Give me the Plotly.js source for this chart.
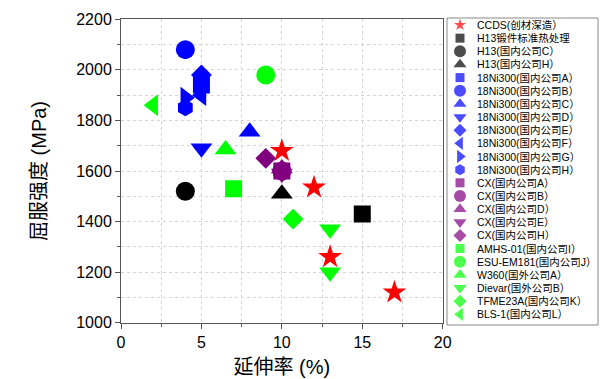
<!DOCTYPE html>
<html>
<head>
<meta charset="utf-8">
<script src="https://cdn.plot.ly/plotly-3.0.1.min.js"></script>
<style>html,body{margin:0;padding:0;background:#fff;}#chart{width:606px;height:379px;}</style>
</head>
<body>
<div id="chart"></div>
<script>
// ---- data ----
const seriesNames = [
  "CCDS(创材深造）", "H13锻件标准热处理", "H13(国内公司C）", "H13(国内公司H）",
  "18Ni300(国内公司A）", "18Ni300(国内公司B）", "18Ni300(国内公司C）", "18Ni300(国内公司D）",
  "18Ni300(国内公司E）", "18Ni300(国内公司F）", "18Ni300(国内公司G）", "18Ni300(国内公司H）",
  "CX(国内公司A）", "CX(国内公司B）", "CX(国内公司D）", "CX(国内公司E）", "CX(国内公司H）",
  "AMHS-01(国内公司I）", "ESU-EM181(国内公司J）", "W360(国外公司A）", "Dievar(国外公司B）",
  "TFME23A(国内公司K）", "BLS-1(国内公司L）"
];
// elongation (%) per series
const elongation = [
  [10, 12, 13, 17], [15], [4], [10],
  [5], [4], [8], [5],
  [5], [5], [4], [4],
  [10], [10], [10], [10], [9],
  [7], [9], [6.5], [13, 13],
  [10.7], [2]
];
// yield strength (MPa) per series
const yieldStrength = [
  [1680, 1535, 1260, 1120], [1430], [1520], [1510],
  [1940], [2080], [1755], [1690],
  [1980], [1900], [1890], [1850],
  [1600], [1600], [1610], [1590], [1650],
  [1530], [1980], [1685], [1370, 1200],
  [1410], [1860]
];

// ---- styles ----
const symbols = [
  "star", "square", "circle", "triangle-up",
  "square", "circle", "triangle-up", "triangle-down",
  "diamond", "triangle-left", "triangle-right", "hexagon",
  "square", "circle", "triangle-up", "triangle-down", "diamond",
  "square", "circle", "triangle-up", "triangle-down",
  "diamond", "triangle-left"
];
const colors = [
  "#ff0000", "#000000", "#000000", "#000000",
  "#0000ff", "#0000ff", "#0000ff", "#0000ff", "#0000ff", "#0000ff", "#0000ff", "#0000ff",
  "#800080", "#800080", "#800080", "#800080", "#800080",
  "#00ff00", "#00ff00", "#00ff00", "#00ff00", "#00ff00", "#00ff00"
];
const mainSize = {"star": 18, "square": 17, "circle": 19, "triangle-up": 19, "triangle-down": 19,
  "triangle-left": 19, "triangle-right": 19, "diamond": 16, "hexagon": 17};
const legendSize = {"star": 9, "square": 9, "circle": 12, "triangle-up": 11.5, "triangle-down": 11.5,
  "triangle-left": 11.5, "triangle-right": 11.5, "diamond": 10, "hexagon": 11};

const W = 606, H = 379;
const plotL = 121, plotR = 442.7, plotT = 19.3, plotB = 322.7;
const legL = 447, legR = 598, legT = 18, legB = 325;
const rowTop = 25, rowStep = 13.15, markerOff = 13, textOff = 15;

const traces = seriesNames.map((name, i) => ({
  type: "scatter", mode: "markers", name: name,
  x: elongation[i], y: yieldStrength[i],
  xaxis: "x", yaxis: "y",
  marker: {symbol: symbols[i], color: colors[i], size: mainSize[symbols[i]], line: {width: 0}},
  showlegend: false, hoverinfo: "x+y+name"
}));

const idx = seriesNames.map((_, i) => i);
traces.push({
  type: "scatter", mode: "markers", xaxis: "x2", yaxis: "y2",
  x: idx.map(() => 0), y: idx,
  marker: {symbol: symbols, color: colors, size: symbols.map(s => legendSize[s]), line: {width: 0}},
  showlegend: false, hoverinfo: "skip"
});

const annotations = seriesNames.map((name, i) => ({
  xref: "x2", yref: "y2", x: textOff, y: i, text: name, showarrow: false,
  xanchor: "left", yanchor: "middle",
  font: {family: "Liberation Sans, Noto Sans CJK SC, sans-serif", size: 10.5, color: "#000"}
}));

const gridStyle = {gridcolor: "#d4d4d4", griddash: "dot", gridwidth: 1};
const fontFam = "Liberation Sans, Arial, Noto Sans CJK SC, sans-serif";

const layout = {
  width: W, height: H,
  margin: {l: 0, r: 0, t: 0, b: 0, pad: 0},
  paper_bgcolor: "#fff", plot_bgcolor: "#fff",
  font: {family: fontFam, color: "#000"},
  showlegend: false,
  xaxis: Object.assign({
    domain: [plotL / W, plotR / W], range: [0, 20], dtick: 5, tick0: 0,
    ticks: "outside", ticklen: 5, tickcolor: "#555", tickwidth: 1,
    showline: true, linecolor: "#555", linewidth: 1, mirror: true,
    showgrid: true, zeroline: false,
    tickfont: {size: 16, family: fontFam},
    title: {text: "延伸率 (%)", font: {size: 20, family: fontFam}, standoff: 10},
    minor: Object.assign({dtick: 2.5, ticks: "outside", ticklen: 3, tickcolor: "#555", showgrid: true}, gridStyle),
    anchor: "y", fixedrange: true
  }, gridStyle),
  yaxis: Object.assign({
    domain: [(H - plotB) / H, (H - plotT) / H], range: [1000, 2200], dtick: 200, tick0: 1000,
    ticks: "outside", ticklen: 5, tickcolor: "#555", tickwidth: 1,
    showline: true, linecolor: "#555", linewidth: 1, mirror: true,
    showgrid: true, zeroline: false,
    tickfont: {size: 16, family: fontFam},
    title: {text: "屈服强度 (MPa)", font: {size: 20, family: fontFam}, standoff: 24},
    minor: Object.assign({dtick: 100, ticks: "outside", ticklen: 3, tickcolor: "#555", showgrid: true}, gridStyle),
    anchor: "x", fixedrange: true
  }, gridStyle),
  xaxis2: {
    domain: [legL / W, legR / W], range: [-markerOff, legR - legL - markerOff],
    visible: false, showgrid: false, zeroline: false, anchor: "y2", fixedrange: true
  },
  yaxis2: {
    domain: [(H - legB) / H, (H - legT) / H],
    range: [(legB - rowTop) / rowStep, (legT - rowTop) / rowStep],
    visible: false, showgrid: false, zeroline: false, anchor: "x2", fixedrange: true
  },
  shapes: [{
    type: "rect", xref: "paper", yref: "paper",
    x0: legL / W, x1: legR / W, y0: (H - legB) / H, y1: (H - legT) / H,
    line: {color: "#888", width: 1}, fillcolor: "rgba(0,0,0,0)", layer: "below"
  }],
  annotations: annotations
};

Plotly.newPlot("chart", traces, layout, {displayModeBar: false, staticPlot: true});
</script>
</body>
</html>
